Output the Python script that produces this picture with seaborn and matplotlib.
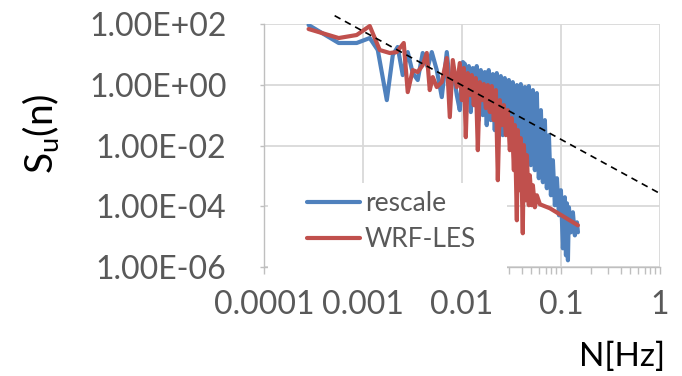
import numpy as np
import pandas as pd
import matplotlib.pyplot as plt
import seaborn as sns
from matplotlib.ticker import FuncFormatter, NullLocator, FixedLocator
from matplotlib.patches import Rectangle

# spectra
freq_rescale = [2.82e-4, 5.68e-4, 8.63e-4, 1.17e-3, 1.41e-3, 1.74e-3, 2.00e-3, 2.24e-3, 2.52e-3,
                2.83e-3, 3.18e-3, 3.57e-3, 4.01e-3, 4.51e-3, 4.95e-3, 5.56e-3, 6.25e-3, 7.02e-3,
                7.53e-3, 8.26e-3, 8.86e-3, 9.50e-3, 1.02e-2,
                1.070e-2, 1.118e-2, 1.172e-2, 1.227e-2, 1.285e-2, 1.345e-2, 1.409e-2, 1.475e-2,
                1.548e-2, 1.621e-2, 1.698e-2, 1.778e-2, 1.862e-2, 1.954e-2, 2.046e-2, 2.143e-2,
                2.244e-2, 2.350e-2, 2.466e-2, 2.582e-2, 2.704e-2, 2.831e-2, 2.972e-2, 3.112e-2,
                3.258e-2, 3.412e-2, 3.581e-2, 3.750e-2, 3.926e-2, 4.111e-2, 4.315e-2, 4.519e-2,
                4.732e-2, 4.955e-2, 5.200e-2, 5.445e-2, 5.702e-2, 5.970e-2, 6.266e-2, 6.561e-2,
                6.871e-2, 7.194e-2, 7.551e-2, 7.907e-2, 8.279e-2, 8.670e-2, 9.10e-2, 9.53e-2,
                9.98e-2, 0.1045, 0.1094, 0.1122, 0.1148, 0.1175, 0.1202, 0.1259, 0.1318, 0.1380,
                0.1449, 0.1483]
su_rescale = [92.7, 23.7, 23.7, 34.5, 13.9, 0.312, 9.51, 17.5, 2.08, 11.9, 2.42, 1.43, 11.1,
              3.82, 11.9, 3.04, 0.392, 11.9, 1.14, 2.08, 0.456, 0.146, 5.58,
              4.80, 0.312, 4.12, 0.126, 3.54, 0.213, 4.12, 0.0684, 3.04, 0.100, 2.61, 0.0468,
              3.04, 0.0684, 2.24, 0.0320, 2.42, 0.0372, 1.93, 0.0219, 1.66, 0.0320, 1.43, 0.0150,
              1.22, 0.0219, 0.975, 0.0103, 1.05, 6.03e-3, 0.838, 3.28e-3, 0.904, 2.25e-3, 0.667,
              1.54e-3, 0.531, 8.37e-4, 0.146, 6.18e-4, 0.0684, 3.92e-4, 0.0219, 2.30e-4, 3.28e-3,
              1.08e-4, 8.37e-4, 5.04e-5, 3.37e-4, 4.12e-6, 1.98e-4, 2.42e-6, 1.25e-4, 1.66e-6,
              9.25e-5, 1.39e-5, 6.33e-5, 1.10e-5, 2.96e-5, 1.39e-5]

freq_wrf = [2.82e-4, 5.68e-4, 8.63e-4, 1.17e-3, 1.476e-3, 1.862e-3, 2.192e-3, 2.580e-3, 2.83e-3,
            3.18e-3, 3.57e-3, 4.01e-3, 4.406e-3, 4.724e-3, 5.069e-3, 5.56e-3, 6.25e-3, 7.02e-3,
            7.53e-3, 8.07e-3, 8.86e-3, 9.50e-3, 9.96e-3, 1.043e-2, 1.092e-2, 1.143e-2, 1.199e-2,
            1.256e-2, 1.315e-2, 1.377e-2, 1.445e-2, 1.514e-2, 1.585e-2, 1.660e-2, 1.742e-2,
            1.824e-2, 1.910e-2, 2.000e-2, 2.094e-2, 2.198e-2, 2.301e-2, 2.410e-2, 2.523e-2,
            2.649e-2, 2.773e-2, 2.904e-2, 3.041e-2, 3.184e-2, 3.342e-2, 3.420e-2, 3.581e-2,
            3.664e-2, 3.837e-2, 3.926e-2, 4.111e-2, 4.217e-2, 4.416e-2, 4.519e-2, 4.732e-2,
            4.842e-2, 5.070e-2, 5.200e-2, 5.445e-2, 5.702e-2, 6.124e-2, 6.871e-2, 7.727e-2, 0.1483]
su_wrf = [68.4, 34.5, 43.4, 85.9, 13.9, 11.1, 11.9, 23.7, 0.573, 3.04, 2.61, 4.45, 11.1, 0.667,
          1.79, 0.838, 1.22, 7.57, 0.0859, 6.50, 0.838, 5.18, 0.312, 3.54, 0.0188, 2.42, 0.456,
          2.08, 0.213, 1.66, 7.01e-3, 1.22, 0.312, 1.05, 0.170, 0.975, 0.126, 0.904, 0.0684,
          0.667, 7.19e-4, 0.312, 0.0468, 0.213, 0.0219, 0.146, 7.01e-3, 0.0797, 1.54e-3, 0.0468,
          3.45e-5, 0.0320, 3.37e-4, 0.0174, 1.29e-5, 0.0103, 1.57e-4, 4.80e-3, 1.08e-4, 1.05e-3,
          1.08e-4, 4.92e-4, 9.25e-5, 2.30e-4, 1.16e-4, 9.98e-5, 8.57e-5, 2.36e-5]

# -5/3 reference line end points
ref_freq = [5.17e-4, 1.0]
ref_su = [188.0, 2.62e-4]

x_ticks = [1e-4, 1e-3, 1e-2, 1e-1, 1]
x_tick_labels = ["0.0001", "0.001", "0.01", "0.1", "1"]
y_ticks = [1e-6, 1e-4, 1e-2, 1, 1e2]

df = pd.concat([
    pd.DataFrame({"N": freq_rescale, "Su": su_rescale, "case": "rescale"}),
    pd.DataFrame({"N": freq_wrf, "Su": su_wrf, "case": "WRF-LES"}),
], ignore_index=True)

sns.set_theme(style="white")
plt.rcParams["font.family"] = ["Lato", "DejaVu Sans"]
grey = "#595959"

fig = plt.figure(figsize=(6.82, 3.76), dpi=100)
ax = fig.add_axes([264 / 682, 1 - 267 / 376, 396 / 682, 243 / 376])
ax.set_xscale("log")
ax.set_yscale("log")

sns.lineplot(data=df, x="N", y="Su", hue="case",
             palette={"rescale": "#4f81bd", "WRF-LES": "#c0504d"},
             estimator=None, lw=3, ax=ax)
ax.plot(ref_freq, ref_su, color="black", lw=1.2, ls=(0, (4, 3)), clip_on=False, zorder=3)

ax.set_xlim(1e-4, 1)
ax.set_ylim(1e-6, 1e2)
ax.set_xticks(x_ticks)
ax.set_xticklabels(x_tick_labels)
ax.yaxis.set_major_locator(FixedLocator(y_ticks))
ax.yaxis.set_minor_locator(NullLocator())
ax.yaxis.set_major_formatter(FuncFormatter(lambda v, p: f"{v:.2E}"))

ax.grid(True, which="major", color="#d9d9d9", lw=1.3)
ax.set_axisbelow(True)
for s in ["top", "right"]:
    ax.spines[s].set_visible(False)
for s in ["left", "bottom"]:
    ax.spines[s].set_color("#bfbfbf")
    ax.spines[s].set_linewidth(1)

ax.tick_params(axis="x", which="both", bottom=True, direction="out", length=5,
               width=1, color="#bfbfbf", labelsize=23, labelcolor=grey, pad=11.5)
ax.tick_params(axis="y", which="major", left=True, direction="out", length=3,
               width=1, color="#bfbfbf", labelsize=23, labelcolor=grey, pad=24)
ax.set_xlabel("")
ax.set_ylabel("")

# white legend area covering the lower-left part of the plot
ax.add_patch(Rectangle((0.01, -0.037), 0.604, 0.383, transform=ax.transAxes,
                       facecolor="white", edgecolor="none", zorder=4, clip_on=False))
handles, labels = ax.get_legend_handles_labels()
leg = ax.legend(handles, labels, loc="upper left", bbox_to_anchor=(0.1086, 0.313),
                frameon=False, fontsize=19, handlelength=2.0, handletextpad=0.2,
                labelspacing=0.43, borderpad=0, borderaxespad=0)
leg.set_zorder(5)
for t in leg.get_texts():
    t.set_color(grey)
for h in leg.get_lines():
    h.set_linewidth(3)

fig.text(41 / 682, 1 - 134 / 376, "S$_\\mathregular{u}$(n)", rotation=90,
         ha="center", va="center", fontsize=28, color="black")
fig.text(665 / 682, 1 - 357 / 376, "N[Hz]", ha="right", va="center", fontsize=24, color="black")

fig.savefig("out.png", dpi=100)
